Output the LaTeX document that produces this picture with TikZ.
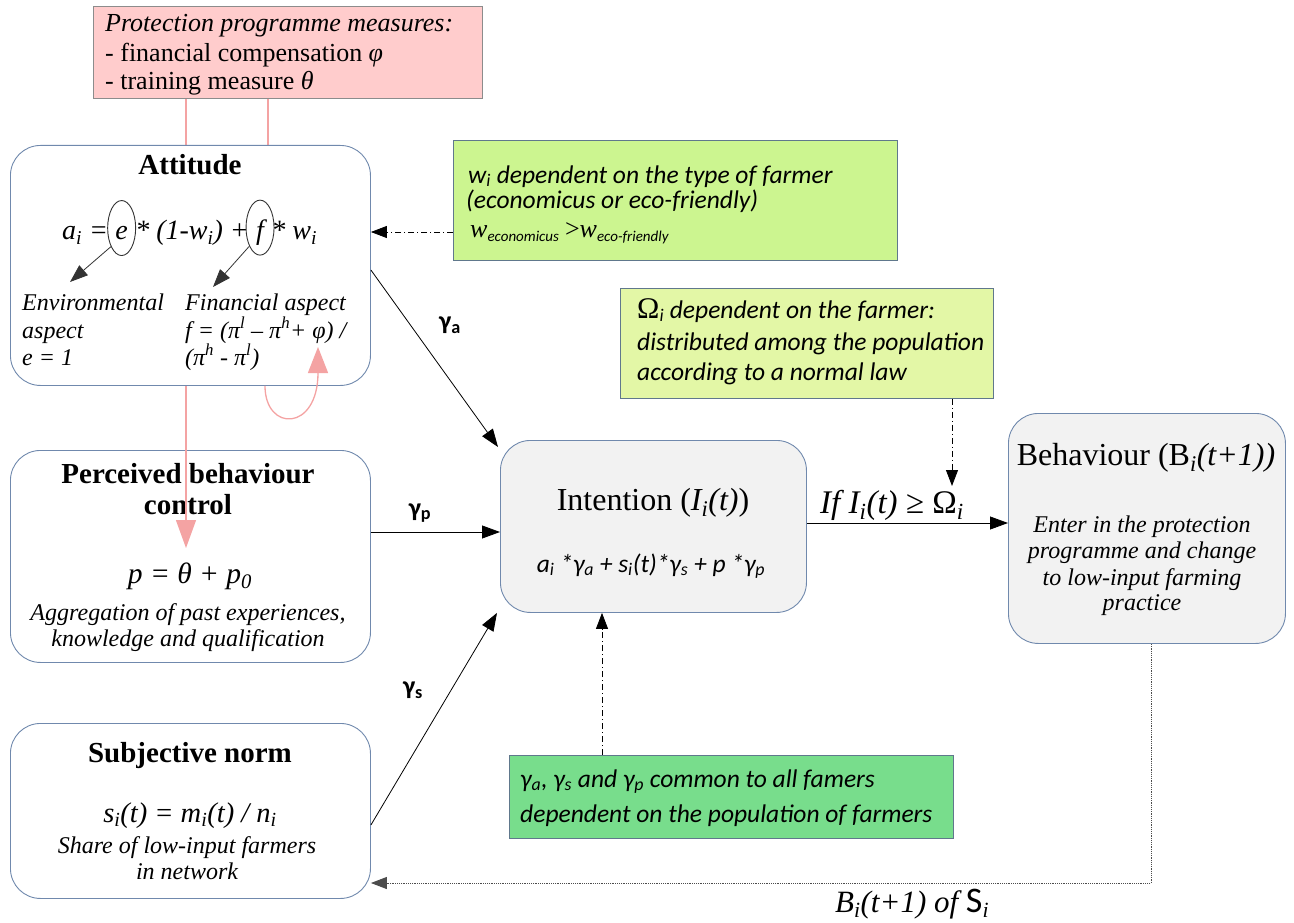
\documentclass[tikz,border=0pt]{standalone}
\usepackage{fontspec}
\setmainfont{Liberation Serif}
\newfontfamily\carl{Carlito}
\usetikzlibrary{arrows.meta,shapes.geometric}
\newcommand{\sbs}[1]{\textsubscript{#1}}
\newcommand{\fsz}[1]{\fontsize{#1}{#1}\selectfont}
\definecolor{pinkfill}{HTML}{FFCCCC}
\definecolor{pinkline}{HTML}{F4A3A3}
\definecolor{bord}{HTML}{7089AD}
\definecolor{sbord}{HTML}{60788C}
\definecolor{gone}{HTML}{CCF590}
\definecolor{gtwo}{HTML}{E3F7A6}
\definecolor{gthree}{HTML}{78DD8C}
\definecolor{boxgray}{HTML}{F2F2F2}
\begin{document}
\begin{tikzpicture}[x=1pt,y=-1pt,
  rbox/.style={draw=bord, line width=0.9pt, rounded corners=30pt, anchor=north west, inner sep=0},
  sbox/.style={draw=sbord, line width=0.9pt, anchor=north west, inner sep=0},
  hdr/.style={anchor=base, inner sep=0, font=\fsz{29}\bfseries},
  lineL/.style={anchor=base west, inner sep=0},
  lineC/.style={anchor=base, inner sep=0},
  ser/.style={font=\fsz{24}\itshape},
  grn/.style={font=\carl\fsz{25.5}\itshape},
  gam/.style={anchor=center, inner sep=0, font=\carl\fsz{26}\bfseries},
  arr/.style={line width=0.8pt, -{Triangle[length=18pt,width=13pt]}},
  dd/.style={line width=0.8pt, dash pattern=on 6pt off 3pt on 1pt off 3pt, -{Triangle[length=16pt,width=12pt]}},
  pk/.style={draw=pinkline, line width=1.3pt},
  ell/.style={draw=black!80, ellipse, line width=0.9pt, minimum width=28, minimum height=55, inner sep=0},
]
\useasboundingbox (0,0) rectangle (1294,923);

% programme box
\node[sbox, fill=pinkfill, draw=black!45, minimum width=389, minimum height=92] (prog) at (93,6) {};
\node[lineL, font=\fsz{26}\itshape] (pr1) at (105,32) {Protection programme measures:};
\node[lineL, font=\fsz{26}] (pr2) at (105,62) {- financial compensation \textit{φ}};
\node[lineL, font=\fsz{26}] (pr3) at (105,90) {- training measure \textit{θ}};

% perceived behaviour control
\node[rbox, fill=white, minimum width=360, minimum height=212] (per) at (10,450) {};
\node[hdr] (per1) at (188,483) {Perceived behaviour};
\node[hdr] (per2) at (188,514) {control};
\node[lineC, font=\fsz{29.5}\itshape] (per3) at (190,583) {p = θ + p\sbs{0}};
\node[lineC, ser] (per4) at (188,620) {Aggregation of past experiences,};
\node[lineC, ser] (per5) at (188,646) {knowledge and qualification};

% pink connectors from programme box
\coordinate (ptip) at (186,548);
\draw[pk, -{Triangle[length=28pt,width=20pt]}] (prog.south -| ptip) -- (ptip);
\draw[pk] (prog.south -| 268,0) -- (268,200);

% attitude
\node[rbox, fill=white, minimum width=360, minimum height=240] (att) at (10,145) {};
\node[hdr] (atth) at (190,175) {Attitude};
\node[lineL, font=\fsz{28}\itshape] (fa) at (62,240) {a\sbs{i} =};
\node[anchor=base west, inner ysep=0, inner xsep=7pt, font=\fsz{28}\itshape] (fe) at (fa.base east) {e};
\node[lineL, font=\fsz{28}\itshape] (fm) at (fe.base east) {* (1-w\sbs{i}) +};
\node[anchor=base west, inner ysep=0, inner xsep=7pt, font=\fsz{28}\itshape] (ff) at (fm.base east) {f};
\node[lineL, font=\fsz{28}\itshape] (fw) at (ff.base east) {* w\sbs{i}};
\node[ell] (ell1) at ([yshift=5.5pt]fe.center) {};
\node[ell] (ell2) at ([yshift=5.5pt]ff.center) {};
\coordinate (etip) at (70,282);
\coordinate (ftip) at (213,287);
\draw[arr, draw=black!80] (ell1.240) -- (etip);
\draw[arr, draw=black!80] (ell2.240) -- (ftip);
\node[lineL, ser] (env1) at (22,310) {Environmental};
\node[lineL, ser] (env2) at (22,338) {aspect};
\node[lineL, ser] (env3) at (22,365) {e = 1};
\node[lineL, ser] (fin1) at (185,310) {Financial aspect};
\node[lineL, ser] (fin2) at (185,338) {f = (π\textsuperscript{l} – π\textsuperscript{h}+ φ) /};
\node[lineL, ser] (fin3) at (185,365) {(π\textsuperscript{h} - π\textsuperscript{l})};

% pink loop arrow
\coordinate (loopst) at (265,385);
\coordinate (looptip) at (318,347);
\draw[pk, -{Triangle[length=26pt,width=20pt]}] (att.south -| loopst) .. controls (265,432) and (318,432) .. (looptip);

% subjective norm
\node[rbox, fill=white, minimum width=360, minimum height=175] (sub) at (10,723) {};
\node[hdr] (sub1) at (190,762) {Subjective norm};
\node[lineC, font=\fsz{28.5}\itshape] (sub2) at (190,822) {s\sbs{i}(t) = m\sbs{i}(t) / n\sbs{i}};
\node[lineC, ser] (sub3) at (187,853) {Share of low-input farmers};
\node[lineC, ser] (sub4) at (187,879) {in network};

% intention
\node[rbox, fill=boxgray, minimum width=306, minimum height=172] (int) at (500,440) {};
\node[lineC, font=\fsz{32}] (int1) at (653,510) {Intention (\textit{I\sbs{i}(t)})};
\node[lineC, font=\carl\fsz{25.5}\itshape] (int2) at (651,572) {a\sbs{i} *γ\sbs{a} + s\sbs{i}(t)*γ\sbs{s} + p *γ\sbs{p}};

% behaviour
\node[rbox, fill=boxgray, minimum width=277, minimum height=230] (beh) at (1008,413) {};
\node[lineC, font=\fsz{32}] (beh1) at (1146,465) {Behaviour (B\sbs{\textit{i}}\textit{(t+1))}};
\node[lineC, ser] (beh2) at (1142,532) {Enter in the protection};
\node[lineC, ser] (beh3) at (1142,558) {programme and change};
\node[lineC, ser] (beh4) at (1142,585) {to low-input farming};
\node[lineC, ser] (beh5) at (1142,610) {practice};

% green box 1
\node[sbox, fill=gone, minimum width=444, minimum height=120] (g1) at (453,140) {};
\node[lineL, grn] (g1a) at (468,183) {w\sbs{i} dependent on the type of farmer};
\node[lineL, grn] (g1b) at (466,208) {(economicus or eco-friendly)};
\node[lineL] (g1c) at (470,237) {{\fsz{26}\itshape w}{\carl\itshape\fsz{15}\raisebox{-4pt}{economicus}}\hspace{6pt}{\fsz{26}>}{\fsz{26}\itshape w}{\carl\itshape\fsz{15}\raisebox{-4pt}{eco-friendly}}};
\draw[dd] (g1.west |- 0,232) -- (att.east |- 0,232);

% green box 2
\node[sbox, fill=gtwo, minimum width=373, minimum height=110] (g2) at (620,288) {};
\node[lineL, grn] (g2a) at (637,318) {{\rmfamily\upshape\fsz{30}Ω}\sbs{i} dependent on the farmer:};
\node[lineL, grn] (g2b) at (637,350) {distributed among the population};
\node[lineL, grn] (g2c) at (637,380) {according to a normal law};
\coordinate (omt) at (952,486);
\draw[dd] (g2.south -| omt) -- (omt);

% green box 3
\node[sbox, fill=gthree, minimum width=444, minimum height=83] (g3) at (509,755) {};
\node[lineL, grn] (g3a) at (520,787) {γ\sbs{a}, γ\sbs{s} and γ\sbs{p} common to all famers};
\node[lineL, grn] (g3b) at (520,822) {dependent on the population of farmers};
\draw[dd] (g3.north -| 602,0) -- (int.south -| 602,0);

% main arrows
\draw[arr] (att.east |- 0,270) -- ([shift={(-2,7)}]int.north west);
\node[gam] (ga) at (450,325) {γ\sbs{a}};
\coordinate (pp) at (0,532);
\draw[arr] (per.east |- pp) -- (int.west |- pp);
\node[gam] (gp) at (420,513) {γ\sbs{p}};
\draw[arr] (sub.east |- 0,825) -- ([xshift=-3pt]int.south west);
\node[gam] (gs) at (413,690) {γ\sbs{s}};

\draw[arr] (int.east |- 0,523) -- (beh.west |- 0,523);
\node[lineC, font=\fsz{33}\itshape] (iflab) at (892,513) {If I\sbs{i}(t) ≥ \textup{Ω}\sbs{i}};

% feedback
\coordinate (bc) at (1151,883);
\draw[line width=1pt, draw=black!70, dash pattern=on 1.2pt off 1pt, -{Triangle[length=16pt,width=12pt]}] (beh.south -| bc) -- (bc) -- (sub.east |- bc);
\node[lineL, font=\fsz{31}\itshape] (blab) at (835,912) {B\sbs{i}(t+1) of {\carl\upshape\fsz{36}S}\sbs{i}};
\end{tikzpicture}
\end{document}
